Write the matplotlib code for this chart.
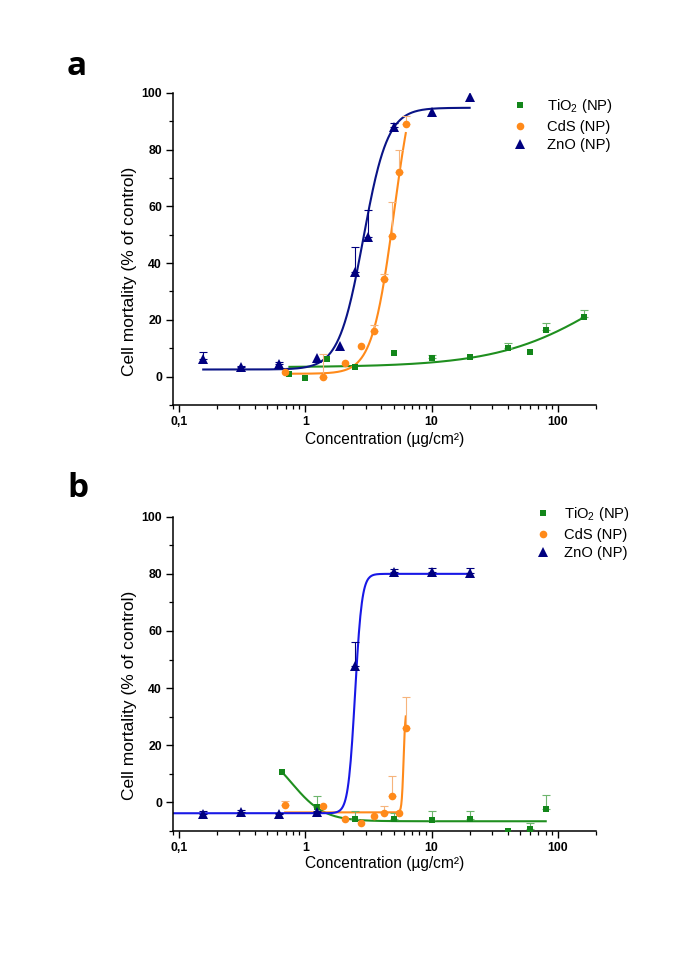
import numpy as np
import matplotlib
matplotlib.use("Agg")
import matplotlib.pyplot as plt
from matplotlib.ticker import FixedLocator, FixedFormatter, LogLocator, NullFormatter, MultipleLocator
from matplotlib.lines import Line2D

plt.rcParams['font.family'] = ['Liberation Sans', 'DejaVu Sans']
plt.rcParams['mathtext.fontset'] = 'custom'
plt.rcParams['mathtext.rm'] = 'Liberation Sans'

# ---------------- data ----------------
# Panel a
a_zno_x = [0.156, 0.3125, 0.625, 1.25, 1.875, 2.5, 3.125, 5, 10, 20]
a_zno_y = [6.1, 3.3, 4.6, 6.5, 10.9, 36.8, 49.3, 88.0, 93.3, 98.4]
a_zno_err = [2.7, 0.5, 0.5, 0, 0, 8.8, 9.4, 1.2, 0, 0]

a_cds_x = [0.694, 1.389, 2.083, 2.778, 3.472, 4.167, 4.861, 5.556, 6.25]
a_cds_y = [1.5, -0.3, 4.7, 10.9, 16.2, 34.4, 49.6, 72.0, 89.0]
a_cds_err = [0, 8.3, 0, 0, 2.0, 1.8, 11.8, 7.8, 2.8]

a_tio_x = [0.75, 1, 1.5, 2.5, 5, 10, 20, 40, 60, 80, 160]
a_tio_y = [1.0, -0.5, 6.2, 3.5, 8.2, 6.7, 6.8, 10.0, 8.5, 16.4, 21.1]
a_tio_err = [0, 0, 0, 0, 0, 0.9, 0, 2.0, 0, 2.4, 2.4]

# Panel b
b_zno_x = [0.156, 0.3125, 0.625, 1.25, 2.5, 5, 10, 20]
b_zno_y = [-4.1, -3.5, -4.1, -3.5, 47.9, 80.8, 80.8, 80.2]
b_zno_err = [1.0, 1.0, 0.5, 0.5, 8.4, 0.9, 1.2, 1.8]

b_cds_x = [0.694, 1.389, 2.083, 2.778, 3.472, 4.167, 4.861, 5.556, 6.25]
b_cds_y = [-0.8, -1.4, -5.8, -7.2, -4.7, -3.7, 2.3, -3.7, 26.0]
b_cds_err = [1.4, 0, 0, 0, 0, 2.3, 6.8, 0, 10.8]

b_tio_x = [0.65, 1.25, 2.5, 5, 10, 20, 40, 60, 80]
b_tio_y = [10.8, -1.6, -5.8, -5.8, -6.3, -5.8, -10.1, -9.2, -2.2]
b_tio_err = [0, 3.7, 2.7, 2.1, 3.2, 2.9, 0, 2.0, 4.9]

# Dose-response fit parameters (bottom, top, EC50, hill, x-start, x-end)
a_zno_fit = (2.5, 94.7, 2.88, 4.5, 0.156, 20)
a_cds_fit = (1.0, 115.0, 5.05, 5.0, 0.694, 6.25)
a_tio_fit = (3.3, 50.3, 268.0, 1.0, 0.75, 160)
b_zno_fit = (-3.8, 80.0, 2.48, 16.0, 0.09, 20)
b_cds_fit = (-3.5, 33.0, 6.0, 60.0, 0.694, 6.25)
b_tio_fit = (-6.6, 20.0, 0.785, -3.37, 0.65, 80)   # negative hill: decreasing

series_names = ['TiO$_2$ (NP)', 'CdS (NP)', 'ZnO (NP)']
x_ticks = [0.1, 1, 10, 100]
x_ticklabels = ['0,1', '1', '10', '100']
y_ticks = [0, 20, 40, 60, 80, 100]

# ---------------- styling ----------------
C_ZNO = '#00007F'
C_ZNO_LINE_A = '#0A1486'
C_ZNO_LINE_B = '#1818E6'
C_CDS = '#FF8A1A'
C_CDS_ERR = '#F6B47C'
C_TIO = '#13861A'
C_TIO_LINE = '#1F8F1F'
C_TIO_ERR = '#6DB56D'


def dose_resp(params):
    b, t, ec, h, x0, x1 = params
    x = np.geomspace(x0, x1, 400)
    y = b + (t - b) / (1 + (ec / x) ** h)
    return x, y


def draw_points(ax, x, y, err, color, ecolor, marker, ms, z):
    x = np.asarray(x, float); y = np.asarray(y, float); err = np.asarray(err, float)
    m = err > 0
    if m.any():
        ax.errorbar(x[m], y[m], yerr=[np.zeros(m.sum()), err[m]], fmt='none',
                    ecolor=ecolor, elinewidth=0.8, capsize=3, capthick=0.8, zorder=z - 1)
    ax.plot(x, y, linestyle='none', marker=marker, color=color, ms=ms,
            markeredgewidth=0, zorder=z)


def style_axes(ax):
    ax.set_xscale('log')
    ax.set_xlim(0.09, 200)
    ax.set_ylim(-10, 100)
    for s in ['top', 'right']:
        ax.spines[s].set_visible(False)
    for s in ['left', 'bottom']:
        ax.spines[s].set_linewidth(1.1)
    ax.xaxis.set_major_locator(FixedLocator(x_ticks))
    ax.xaxis.set_major_formatter(FixedFormatter(x_ticklabels))
    ax.xaxis.set_minor_locator(LogLocator(base=10, subs=np.arange(2, 10), numticks=20))
    ax.xaxis.set_minor_formatter(NullFormatter())
    ax.yaxis.set_major_locator(FixedLocator(y_ticks))
    ax.yaxis.set_minor_locator(MultipleLocator(10))
    ax.tick_params(which='major', direction='out', length=5, width=1.0, labelsize=8.8, pad=3)
    ax.tick_params(which='minor', direction='out', length=3, width=0.9)
    for lab in ax.get_xticklabels() + ax.get_yticklabels():
        lab.set_fontweight('bold')
    ax.set_ylabel('Cell mortality (% of control)', fontsize=12.5)
    ax.set_xlabel('Concentration (µg/cm²)', fontsize=11.2)


fig = plt.figure(figsize=(6.85, 9.59), dpi=100)
axA = fig.add_axes([0.2526, 0.5777, 0.6175, 0.3256])
axB = fig.add_axes([0.2526, 0.1335, 0.6175, 0.3277])

# ---- panel a ----
for params, col in [(a_tio_fit, C_TIO_LINE), (a_cds_fit, C_CDS), (a_zno_fit, C_ZNO_LINE_A)]:
    fx, fy = dose_resp(params)
    axA.plot(fx, fy, color=col, lw=1.5, zorder=2)
draw_points(axA, a_tio_x, a_tio_y, a_tio_err, C_TIO, C_TIO_ERR, 's', 4.5, 4)
draw_points(axA, a_cds_x, a_cds_y, a_cds_err, C_CDS, C_CDS_ERR, 'o', 5.5, 5)
draw_points(axA, a_zno_x, a_zno_y, a_zno_err, C_ZNO, C_ZNO, '^', 7, 6)
style_axes(axA)

# ---- panel b ----
for params, col in [(b_tio_fit, C_TIO_LINE), (b_cds_fit, C_CDS), (b_zno_fit, C_ZNO_LINE_B)]:
    fx, fy = dose_resp(params)
    axB.plot(fx, fy, color=col, lw=1.5, zorder=2)
draw_points(axB, b_tio_x, b_tio_y, b_tio_err, C_TIO, C_TIO_ERR, 's', 4.5, 4)
draw_points(axB, b_cds_x, b_cds_y, b_cds_err, C_CDS, C_CDS_ERR, 'o', 5.5, 5)
draw_points(axB, b_zno_x, b_zno_y, b_zno_err, C_ZNO, C_ZNO, '^', 7, 6)
style_axes(axB)

# label placement
axA.yaxis.set_label_coords(-0.104, 0.4275)
axB.yaxis.set_label_coords(-0.104, 0.433)
for ax, yc in [(axA, -0.112), (axB, -0.105)]:
    ax.xaxis.set_label_coords(0.5, yc)
    ax.xaxis.label.set_va('center')
    ax.yaxis.label.set_va('center')

# legends
def make_handles():
    return [Line2D([], [], ls='none', marker='s', color=C_TIO, ms=4.5, mew=0),
            Line2D([], [], ls='none', marker='o', color=C_CDS, ms=5.5, mew=0),
            Line2D([], [], ls='none', marker='^', color=C_ZNO, ms=7, mew=0)]

fig.legend(make_handles(), series_names, loc='upper left', bbox_to_anchor=(0.749, 0.8985),
           frameon=False, fontsize=10.6, handlelength=1.0, handletextpad=1.3,
           labelspacing=0.3, borderpad=0, borderaxespad=0)
fig.legend(make_handles(), series_names, loc='upper left', bbox_to_anchor=(0.782, 0.473),
           frameon=False, fontsize=10.6, handlelength=1.0, handletextpad=0.95,
           labelspacing=0.3, borderpad=0, borderaxespad=0)

# panel letters
fig.text(67 / 685, 1 - 75 / 959, 'a', fontsize=24, fontweight='bold',
         family=['Open Sans', 'DejaVu Sans'], ha='left', va='baseline')
fig.text(67 / 685, 1 - 497 / 959, 'b', fontsize=24, fontweight='bold',
         family=['Open Sans', 'DejaVu Sans'], ha='left', va='baseline')

fig.savefig('out.png', dpi=100)
